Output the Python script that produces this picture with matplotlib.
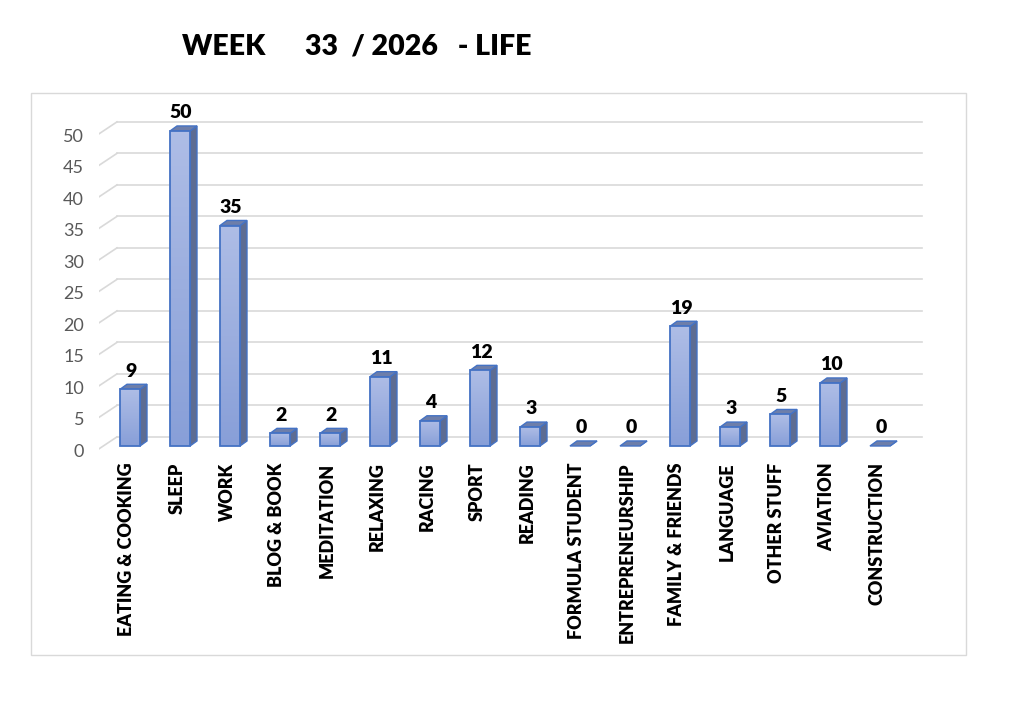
import matplotlib
matplotlib.use("Agg")
import matplotlib.pyplot as plt
import numpy as np
from matplotlib.patches import Polygon, Rectangle

plt.rcParams['font.family'] = ['Lato', 'DejaVu Sans']

categories = ["EATING & COOKING", "SLEEP", "WORK", "BLOG & BOOK", "MEDITATION",
              "RELAXING", "RACING", "SPORT", "READING", "FORMULA STUDENT",
              "ENTREPRENEURSHIP", "FAMILY & FRIENDS", "LANGUAGE", "OTHER STUFF",
              "AVIATION", "CONSTRUCTION"]
hours = [9, 50, 35, 2, 2, 11, 4, 12, 3, 0, 0, 19, 3, 5, 10, 0]
yticks = [0, 5, 10, 15, 20, 25, 30, 35, 40, 45, 50]
title = "WEEK      33  / 2026   - LIFE"

W, H = 1024, 708
fig = plt.figure(figsize=(W / 100, H / 100), dpi=100)

# chart area frame
fig.patches.append(Rectangle((31 / W, 1 - 655 / H), 935 / W, 562 / H,
                             transform=fig.transFigure, fill=False,
                             edgecolor="#d9d9d9", lw=1))

# axes geometry in pixels
px_x = 50.0      # pixels per category
px_y = 6.3       # pixels per unit
x0_px, y0_px = 130, 446   # bar 0 centre, value 0 (front plane)
xlim = (-0.62, 15.9)
ylim = (-0.6, 52)
left = (x0_px + xlim[0] * px_x) / W
right = (x0_px + xlim[1] * px_x) / W
bottom = 1 - (y0_px - ylim[0] * px_y) / H
top = 1 - (y0_px - ylim[1] * px_y) / H
ax = fig.add_axes([left, bottom, right - left, top - bottom])
ax.set_xlim(*xlim)
ax.set_ylim(*ylim)
ax.axis("off")

# depth offsets
back_dx, back_dy = -0.26, 1.45
front_dx, front_dy = -0.62, -0.45
gx_end = 15.84

for v in yticks:
    ax.plot([front_dx, back_dx], [v + front_dy, v + back_dy], color="#d9d9d9", lw=1.2, zorder=1)
    ax.plot([back_dx, gx_end], [v + back_dy, v + back_dy], color="#d9d9d9", lw=1.2, zorder=1)
    ax.text(front_dx - 0.3, v + front_dy - 0.45, str(v), ha="right", va="center",
            fontsize=13, color="#595959")

bw = 0.4
ddx, ddy = 0.14, 0.8
grad = np.linspace(0, 1, 100).reshape(-1, 1)
cmap = matplotlib.colors.LinearSegmentedColormap.from_list("g", ["#889fd8", "#aebde6"])

for i, (cat, v) in enumerate(zip(categories, hours)):
    xl, xr = i - bw / 2, i + bw / 2
    # side face
    side = Polygon([(xr, 0), (xr + ddx, ddy), (xr + ddx, v + ddy), (xr, v)],
                   closed=True, facecolor="#5d6c93", edgecolor="#4472c4", lw=1.0, zorder=3)
    ax.add_patch(side)
    # top face
    topf = Polygon([(xl, v), (xl + ddx, v + ddy), (xr + ddx, v + ddy), (xr, v)],
                   closed=True, facecolor="#6d7eaa", edgecolor="#4472c4", lw=1.0, zorder=4)
    ax.add_patch(topf)
    if v > 0:
        front = Rectangle((xl, 0), bw, v, facecolor="none", edgecolor="#4472c4", lw=1.3, zorder=5)
        ax.add_patch(front)
        im = ax.imshow(grad, extent=(xl, xr, 0, v), origin="lower", cmap=cmap,
                       aspect="auto", zorder=4.5)
        im.set_clip_path(front)
    ax.text(i + 0.02, v + ddy + 0.75, str(v), ha="center", va="bottom",
            fontsize=14, fontweight="heavy", color="black")
    ax.text(i - 0.06, -2.6, cat, rotation=90, ha="center", va="top",
            fontsize=13, fontweight="heavy", color="black")

ax.set_xlim(*xlim)
ax.set_ylim(*ylim)

fig.text(357 / W, 1 - 46 / H, title, ha="center", va="center",
         fontsize=20.5, fontweight="heavy", color="black")

fig.savefig("out.png", dpi=100)
